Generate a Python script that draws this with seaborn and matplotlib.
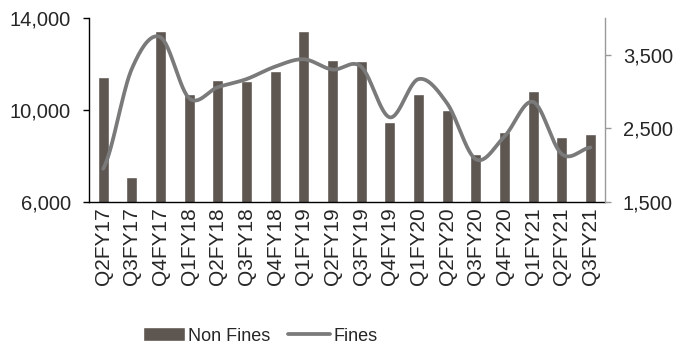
import numpy as np
import pandas as pd
import seaborn as sns
import matplotlib.pyplot as plt

# quarters and values
quarters = ['Q2FY17', 'Q3FY17', 'Q4FY17', 'Q1FY18', 'Q2FY18', 'Q3FY18',
            'Q4FY18', 'Q1FY19', 'Q2FY19', 'Q3FY19', 'Q4FY19', 'Q1FY20',
            'Q2FY20', 'Q3FY20', 'Q4FY20', 'Q1FY21', 'Q2FY21', 'Q3FY21']
non_fines = [11450, 7100, 13450, 10680, 11290, 11260, 11680, 13450, 12190,
             12130, 9480, 10700, 10020, 8100, 9040, 10810, 8810, 8940]
fines = [1950, 3310, 3740, 2910, 3060, 3170, 3340, 3440, 3300,
         3340, 2650, 3170, 2840, 2080, 2390, 2860, 2150, 2240]

bar_color = '#5e5651'
line_color = '#7a7a7a'

sns.set_style('white')
plt.rcParams['font.family'] = ['Liberation Sans', 'DejaVu Sans']


def smooth(y, n=30):
    # excel-style smoothed line (catmull-rom through the points)
    y = np.asarray(y, dtype=float)
    xs, ys = [], []
    for i in range(len(y) - 1):
        p0 = y[i - 1] if i > 0 else y[i]
        p1, p2 = y[i], y[i + 1]
        p3 = y[i + 2] if i + 2 < len(y) else y[i + 1]
        c1 = p1 + (p2 - p0) / 6
        c2 = p2 - (p3 - p1) / 6
        t = np.linspace(0, 1, n, endpoint=False)
        b = (1 - t) ** 3 * p1 + 3 * (1 - t) ** 2 * t * c1 + 3 * (1 - t) * t ** 2 * c2 + t ** 3 * p2
        xs.append(i + t)
        ys.append(b)
    xs.append([len(y) - 1])
    ys.append([y[-1]])
    return np.concatenate(xs), np.concatenate(ys)


df = pd.DataFrame({'quarter': quarters, 'Non Fines': non_fines, 'Fines': fines})

fig = plt.figure(figsize=(6.78, 3.48), dpi=100)
ax = fig.add_axes([0.131, 0.420, 0.761, 0.528])

sns.barplot(data=df, x='quarter', y='Non Fines', color=bar_color, width=0.39,
            saturation=1, ax=ax, label='Non Fines')
ax.set_ylim(6000, 14000)
ax.set_yticks([6000, 10000, 14000])
ax.set_yticklabels(['6,000', '10,000', '14,000'])
ax.set_xlim(-0.5, len(quarters) - 0.5)
ax.set_xlabel('')
ax.set_ylabel('')
ax.tick_params(axis='x', which='major', length=0, labelsize=15, labelrotation=90, pad=4)
ax.set_xticks(np.arange(-0.5, len(quarters), 1), minor=True)
ax.tick_params(axis='x', which='minor', length=4, width=1, color='black', direction='out')
ax.tick_params(axis='y', length=4, width=1, color='black', direction='out', labelsize=14.5, pad=9)
ax.spines['top'].set_visible(False)
ax.spines['right'].set_visible(False)
for s in ['left', 'bottom']:
    ax.spines[s].set_color('black')
    ax.spines[s].set_linewidth(1)

ax2 = ax.twinx()
sx, sy = smooth(fines)
sns.lineplot(x=sx, y=sy, color=line_color, linewidth=2.7, ax=ax2, label='Fines', sort=False)
ax2.set_ylim(1500, 4000)
ax2.set_yticks([1500, 2500, 3500])
ax2.set_yticklabels(['1,500', '2,500', '3,500'])
ax2.tick_params(axis='y', length=4, width=1, color='#999999', direction='out', labelsize=14.5, pad=9)
for s in ['top', 'left', 'bottom']:
    ax2.spines[s].set_visible(False)
ax2.spines['right'].set_color('#999999')
ax2.spines['right'].set_linewidth(1)
ax2.grid(False)
ax.grid(False)

h1, l1 = ax.get_legend_handles_labels()
h2, l2 = ax2.get_legend_handles_labels()
if ax.get_legend():
    ax.get_legend().remove()
if ax2.get_legend():
    ax2.get_legend().remove()
fig.legend(h1 + h2, l1 + l2, loc='center', bbox_to_anchor=(0.384, 0.035), ncol=2,
           frameon=False, fontsize=13, handlelength=2.3, handleheight=0.85,
           handletextpad=0.2, columnspacing=1.0)

fig.savefig('out.png', dpi=100)
